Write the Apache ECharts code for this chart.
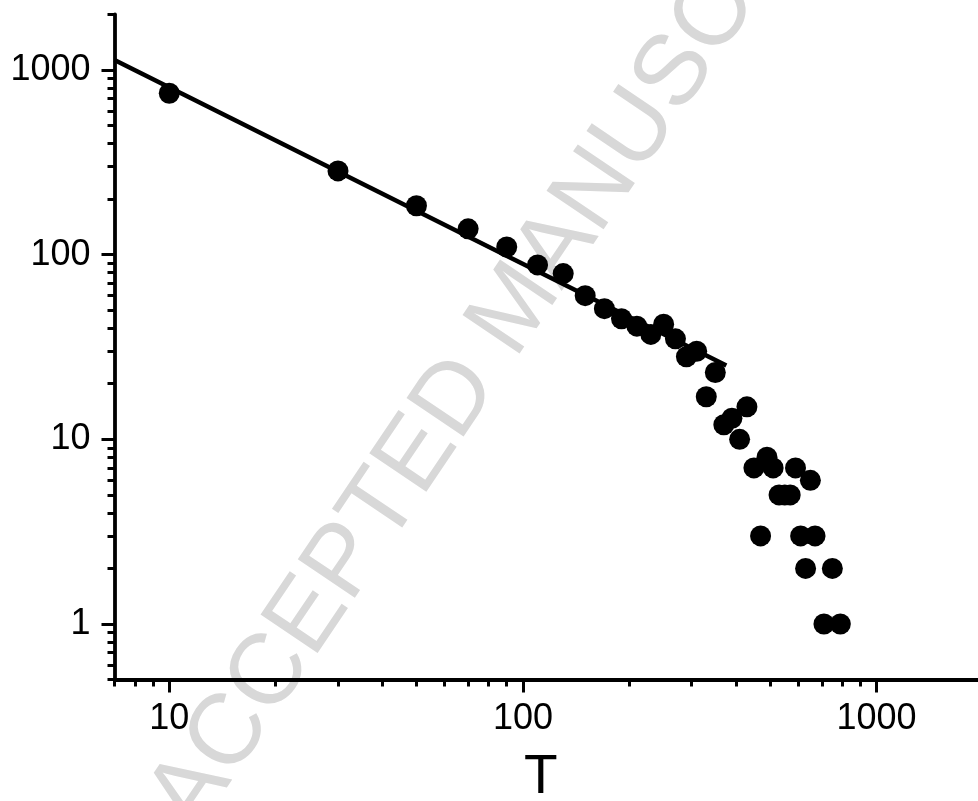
<!DOCTYPE html>
<html>
<head>
<meta charset="utf-8">
<script src="https://cdn.jsdelivr.net/npm/echarts@6/dist/echarts.min.js"></script>
<style>
html,body{margin:0;padding:0;background:#fff;}
#chart{width:978px;height:801px;}
</style>
</head>
<body>
<div id="chart"></div>
<script>
// Scatter data (T, count)
const tValues = [10,30,50,70,90,110,130,150,170,190,210,230,250,270,290,310,330,350,370,390,410,430,450,470,490,510,530,550,570,590,610,630,650,670,710,750,790];
const counts  = [748,284,184,138,110,88,79,60,51,45,41,37,42,35,28,30,17,23,12,13,10,15,7,3,8,7,5,5,5,7,3,2,6,3,1,2,1];
// Fitted power-law line end points
const fitT = [7, 376];
const fitCounts = [1133, 25.1];
// Axis ticks
const xMajorTicks = [10, 100, 1000];
const xMinorTicks = [7,8,9,20,30,40,50,60,70,80,90,200,300,400,500,600,700,800,900,2000];
const yMajorTicks = [1, 10, 100, 1000];
const yMinorTicks = [0.5,0.6,0.7,0.8,0.9,2,3,4,5,6,7,8,9,20,30,40,50,60,70,80,90,200,300,400,500,600,700,800,900,2000];
const xName = 'T';
const watermark = 'ACCEPTED MANUSCRIPT';

const FONT = "'Liberation Sans', Arial, sans-serif";
const chart = echarts.init(document.getElementById('chart'), null, {renderer: 'canvas'});
const fmt = v => String(Math.round(v * 10) / 10);

const axisLine = {show: true, lineStyle: {color: '#000', width: 3.8}};
const X_MIN = 7, X_MAX = 2000, Y_MIN = 0.5, Y_MAX = 2000;

chart.setOption({
  animation: false,
  backgroundColor: '#fff',
  grid: {left: 114.5, right: -5, top: 14.4, bottom: 121.4, containLabel: false, outerBoundsMode: 'none'},
  graphic: [{
    type: 'text', z: -10, x: 517, y: 308, rotation: 56 * Math.PI / 180,
    style: {text: watermark, fill: '#d8d8d8', font: '100px ' + FONT, align: 'center', verticalAlign: 'middle'}
  }],
  xAxis: [{
    type: 'log', logBase: 10, min: X_MIN, max: X_MAX, position: 'bottom',
    name: xName, nameLocation: 'middle', nameGap: 71,
    nameTextStyle: {fontFamily: FONT, fontSize: 55, color: '#000', padding: [0, 16, 0, 0]},
    axisLine: axisLine,
    axisTick: {show: true, inside: false, length: 13, lineStyle: {color: '#000', width: 3}, customValues: xMajorTicks},
    axisLabel: {show: true, margin: 21, fontFamily: FONT, fontSize: 36, color: '#000', customValues: xMajorTicks, formatter: fmt},
    splitLine: {show: false}, minorTick: {show: false}
  }, {
    type: 'log', logBase: 10, min: X_MIN, max: X_MAX, position: 'bottom',
    axisLine: {show: false},
    axisTick: {show: true, inside: false, length: 7, lineStyle: {color: '#000', width: 3}, customValues: xMinorTicks},
    axisLabel: {show: false}, splitLine: {show: false}
  }],
  yAxis: [{
    type: 'log', logBase: 10, min: Y_MIN, max: Y_MAX, position: 'left',
    axisLine: axisLine,
    axisTick: {show: true, inside: false, length: 13, lineStyle: {color: '#000', width: 3}, customValues: yMajorTicks},
    axisLabel: {show: true, margin: 24, fontFamily: FONT, fontSize: 36, color: '#000', customValues: yMajorTicks, formatter: fmt},
    splitLine: {show: false}, minorTick: {show: false}
  }, {
    type: 'log', logBase: 10, min: Y_MIN, max: Y_MAX, position: 'left',
    axisLine: {show: false},
    axisTick: {show: true, inside: false, length: 7, lineStyle: {color: '#000', width: 3}, customValues: yMinorTicks},
    axisLabel: {show: false}, splitLine: {show: false}
  }],
  series: [{
    type: 'scatter', xAxisIndex: 0, yAxisIndex: 0,
    symbol: 'circle', symbolSize: 21,
    itemStyle: {color: '#000', opacity: 1},
    data: tValues.map((t, i) => [t, counts[i]]),
    z: 3
  }, {
    type: 'line', xAxisIndex: 0, yAxisIndex: 0,
    showSymbol: false, symbol: 'none',
    lineStyle: {color: '#000', width: 4.5},
    data: fitT.map((t, i) => [t, fitCounts[i]]),
    z: 4
  }]
});
</script>
</body>
</html>
